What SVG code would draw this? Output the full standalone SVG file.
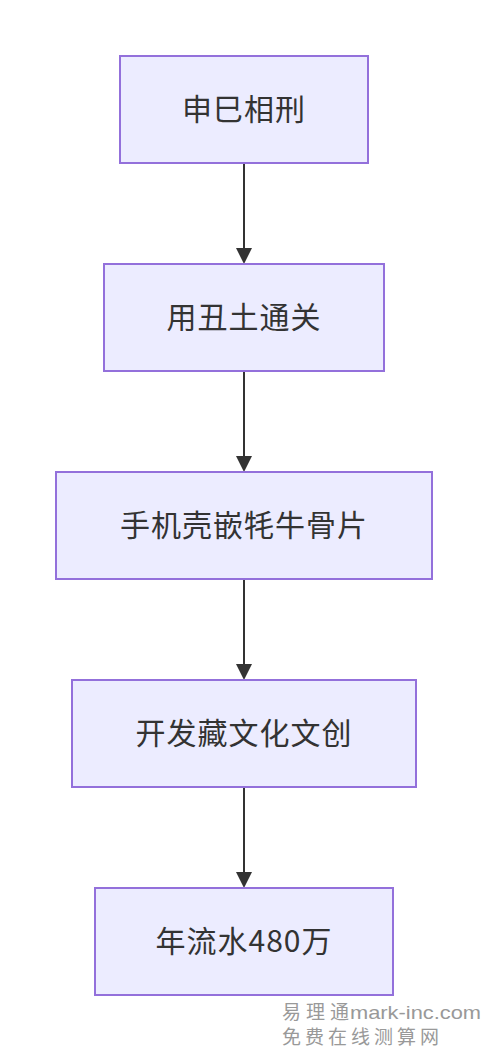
<svg xmlns="http://www.w3.org/2000/svg" width="488" height="1052" viewBox="0 0 488 1052">
<style>
.node rect{fill:#ECECFF;stroke:#9370DB;stroke-width:2}
.node text{font-family:"Noto Sans CJK SC","Liberation Sans",sans-serif;font-size:30px;letter-spacing:1px;fill:#333;text-anchor:middle}
.edge{stroke:#333;stroke-width:2;fill:none}
.head{fill:#333}
.wm{font-family:"Liberation Sans","Noto Sans CJK SC",sans-serif;font-size:19px;fill:#999}
</style>
<rect width="488" height="1052" fill="#fff"/>
<g id="connectors">
<path class="edge" d="M244,164 V250"/>
<path class="edge" d="M244,372 V458"/>
<path class="edge" d="M244,580 V666"/>
<path class="edge" d="M244,788 V874"/>
<path class="head" d="M236,248 L252,248 L244,264 z"/>
<path class="head" d="M236,456 L252,456 L244,472 z"/>
<path class="head" d="M236,664 L252,664 L244,680 z"/>
<path class="head" d="M236,872 L252,872 L244,888 z"/>
</g>
<g id="n1" class="node"><rect x="120" y="56" width="248" height="107"/><text x="244" y="120">申巳相刑</text></g>
<g id="n2" class="node"><rect x="104" y="264" width="280" height="107"/><text x="244" y="328">用丑土通关</text></g>
<g id="n3" class="node"><rect x="56" y="472" width="376" height="107"/><text x="244" y="536">手机壳嵌牦牛骨片</text></g>
<g id="n4" class="node"><rect x="72" y="680" width="344" height="107"/><text x="244" y="744">开发藏文化文创</text></g>
<g id="n5" class="node"><rect x="95" y="888" width="298" height="107"/><text x="244" y="952">年流水480万</text></g>
<g id="watermark">
<text class="wm" x="282" y="1019" letter-spacing="5">易理通</text>
<text class="wm" x="350" y="1019" font-size="21" textLength="131" lengthAdjust="spacingAndGlyphs">mark-inc.com</text>
<text class="wm" x="282" y="1044" letter-spacing="4">免费在线测算网</text>
</g>
</svg>
